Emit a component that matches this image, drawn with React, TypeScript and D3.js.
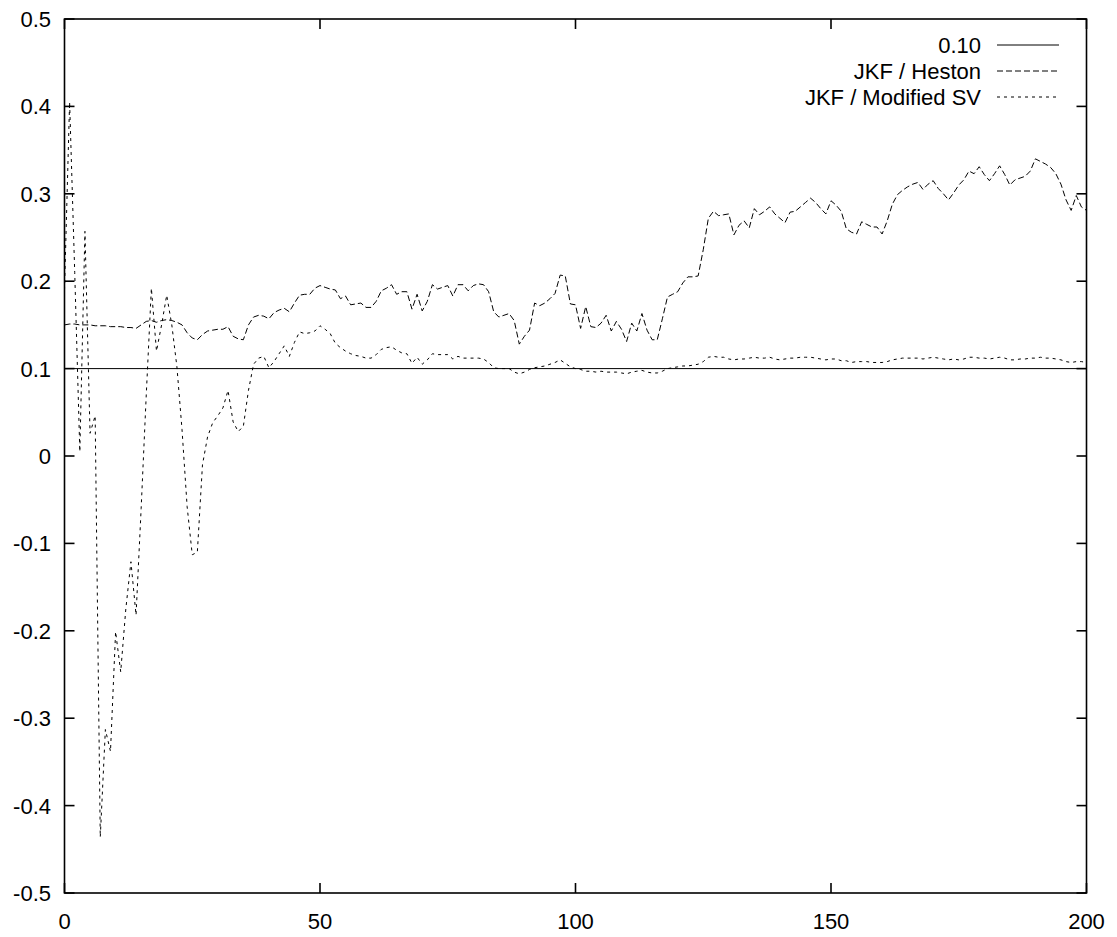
import React from "react";
import * as d3 from "d3";

const xTicks = [0, 50, 100, 150, 200];
const yTicks = [-0.5, -0.4, -0.3, -0.2, -0.1, 0, 0.1, 0.2, 0.3, 0.4, 0.5];
const yTickLabels = ["-0.5", "-0.4", "-0.3", "-0.2", "-0.1", "0", "0.1", "0.2", "0.3", "0.4", "0.5"];

const refLevel = 0.1;
const seriesNames = ["0.10", "JKF / Heston", "JKF / Modified SV"];

const heston = [
  0.150, 0.151, 0.151, 0.150, 0.150, 0.150, 0.149, 0.149, 0.149, 0.148,
  0.148, 0.148, 0.147, 0.147, 0.146, 0.150, 0.154, 0.155, 0.153, 0.155,
  0.156, 0.155, 0.153, 0.150, 0.141, 0.135, 0.133, 0.139, 0.143, 0.144,
  0.145, 0.145, 0.148, 0.137, 0.134, 0.133, 0.150, 0.159, 0.161, 0.160,
  0.157, 0.164, 0.167, 0.169, 0.165, 0.175, 0.184, 0.185, 0.185, 0.192,
  0.195, 0.193, 0.191, 0.190, 0.180, 0.183, 0.173, 0.174, 0.175, 0.170,
  0.170, 0.177, 0.189, 0.192, 0.196, 0.185, 0.188, 0.188, 0.168, 0.185,
  0.166, 0.177, 0.196, 0.191, 0.193, 0.195, 0.183, 0.196, 0.196, 0.189,
  0.195, 0.197, 0.196, 0.188, 0.165, 0.159, 0.161, 0.163, 0.155, 0.128,
  0.137, 0.144, 0.175, 0.172, 0.175, 0.180, 0.186, 0.207, 0.206, 0.174,
  0.173, 0.146, 0.171, 0.148, 0.147, 0.152, 0.161, 0.143, 0.154, 0.145,
  0.131, 0.152, 0.143, 0.163, 0.144, 0.133, 0.133, 0.157, 0.182, 0.185,
  0.188, 0.198, 0.205, 0.205, 0.206, 0.236, 0.272, 0.280, 0.275, 0.276,
  0.277, 0.253, 0.264, 0.269, 0.261, 0.283, 0.276, 0.280, 0.285, 0.277,
  0.272, 0.267, 0.279, 0.280, 0.285, 0.290, 0.295, 0.290, 0.283, 0.277,
  0.292, 0.287, 0.280, 0.260, 0.256, 0.254, 0.268, 0.265, 0.262, 0.262,
  0.254, 0.269, 0.288, 0.299, 0.304, 0.308, 0.311, 0.313, 0.305, 0.311,
  0.315, 0.306, 0.300, 0.293, 0.301, 0.310, 0.316, 0.326, 0.323, 0.331,
  0.322, 0.315, 0.323, 0.332, 0.322, 0.310, 0.316, 0.318, 0.320, 0.326,
  0.340, 0.337, 0.334, 0.330, 0.323, 0.311, 0.293, 0.281, 0.298, 0.285,
  0.281,
];

const modifiedSV = [
  0.190, 0.405, 0.210, 0.005, 0.257, 0.026, 0.046, -0.436, -0.313, -0.338,
  -0.201, -0.247, -0.175, -0.121, -0.182, -0.060, 0.070, 0.192, 0.120, 0.150,
  0.184, 0.150, 0.102, 0.030, -0.058, -0.113, -0.110, -0.010, 0.022, 0.038,
  0.046, 0.055, 0.075, 0.039, 0.028, 0.034, 0.075, 0.105, 0.112, 0.114,
  0.101, 0.108, 0.117, 0.126, 0.114, 0.130, 0.142, 0.140, 0.141, 0.143,
  0.149, 0.145, 0.140, 0.129, 0.124, 0.120, 0.117, 0.115, 0.114, 0.112,
  0.112, 0.116, 0.122, 0.124, 0.125, 0.121, 0.118, 0.117, 0.106, 0.113,
  0.105, 0.110, 0.117, 0.116, 0.116, 0.116, 0.111, 0.114, 0.112, 0.112,
  0.112, 0.112, 0.111, 0.107, 0.101, 0.100, 0.100, 0.100, 0.096, 0.094,
  0.096, 0.099, 0.101, 0.102, 0.103, 0.105, 0.107, 0.110, 0.106, 0.102,
  0.100, 0.099, 0.097, 0.097, 0.096, 0.097, 0.096, 0.096, 0.096, 0.095,
  0.094, 0.096, 0.097, 0.098, 0.096, 0.095, 0.095, 0.097, 0.100, 0.101,
  0.102, 0.103, 0.103, 0.104, 0.105, 0.108, 0.113, 0.114, 0.113, 0.113,
  0.111, 0.110, 0.111, 0.111, 0.112, 0.113, 0.112, 0.112, 0.113, 0.111,
  0.110, 0.111, 0.112, 0.112, 0.113, 0.113, 0.113, 0.112, 0.111, 0.110,
  0.111, 0.111, 0.109, 0.109, 0.107, 0.108, 0.108, 0.108, 0.107, 0.107,
  0.107, 0.108, 0.110, 0.111, 0.112, 0.112, 0.112, 0.112, 0.111, 0.112,
  0.113, 0.112, 0.111, 0.110, 0.111, 0.110, 0.111, 0.113, 0.113, 0.112,
  0.112, 0.111, 0.112, 0.113, 0.112, 0.110, 0.110, 0.111, 0.111, 0.112,
  0.112, 0.113, 0.112, 0.112, 0.111, 0.110, 0.108, 0.107, 0.108, 0.108,
  0.107,
];

const W = 1117;
const H = 937;
const left = 64.5;
const right = 1086.5;
const top = 19;
const bottom = 893;
const font = "'Liberation Sans', Arial, Helvetica, sans-serif";
const fs = 22;
const tickLen = 10;

export default function App() {
  const x = d3.scaleLinear().domain([0, 200]).range([left, right]);
  const y = d3.scaleLinear().domain([-0.5, 0.5]).range([bottom, top]);
  const line = d3
    .line<number>()
    .x((_, i) => x(i))
    .y((d) => y(d));

  const legendTextX = 981;
  const legendLineX1 = 997;
  const legendLineX2 = 1059;
  const legendRows = [45, 71, 97];
  const dashes = [null, "6,3", "3,4"];

  return (
    <div style={{ position: "absolute", left: 0, top: 0 }}>
      <svg width={W} height={H} style={{ display: "block", background: "#fff" }}>
        {/* reference line */}
        <line
          x1={x(0)}
          x2={x(200)}
          y1={y(refLevel)}
          y2={y(refLevel)}
          stroke="#000"
          strokeWidth={1}
        />
        <path d={line(heston) || ""} fill="none" stroke="#000" strokeWidth={1} strokeDasharray="6,3" />
        <path d={line(modifiedSV) || ""} fill="none" stroke="#000" strokeWidth={1} strokeDasharray="3,4" />

        {/* frame */}
        <rect
          x={left}
          y={top}
          width={right - left}
          height={bottom - top}
          fill="none"
          stroke="#000"
          strokeWidth={1.6}
        />

        {/* y ticks */}
        {yTicks.map((t, i) => (
          <g key={"y" + i}>
            <line x1={left} x2={left + tickLen} y1={y(t)} y2={y(t)} stroke="#000" strokeWidth={1.6} />
            <line x1={right} x2={right - tickLen} y1={y(t)} y2={y(t)} stroke="#000" strokeWidth={1.6} />
            <text
              x={51}
              y={y(t) + 8}
              textAnchor="end"
              fontFamily={font}
              fontSize={fs}
              fill="#000"
            >
              {yTickLabels[i]}
            </text>
          </g>
        ))}

        {/* x ticks */}
        {xTicks.map((t, i) => (
          <g key={"x" + i}>
            <line x1={x(t)} x2={x(t)} y1={bottom} y2={bottom - tickLen} stroke="#000" strokeWidth={1.6} />
            <line x1={x(t)} x2={x(t)} y1={top} y2={top + tickLen} stroke="#000" strokeWidth={1.6} />
            <text
              x={x(t)}
              y={929}
              textAnchor="middle"
              fontFamily={font}
              fontSize={fs}
              fill="#000"
            >
              {String(t)}
            </text>
          </g>
        ))}

        {/* legend */}
        {seriesNames.map((name, i) => (
          <g key={"l" + i}>
            <text
              x={legendTextX}
              y={legendRows[i] + 8}
              textAnchor="end"
              fontFamily={font}
              fontSize={fs}
              fill="#000"
            >
              {name}
            </text>
            <line
              x1={legendLineX1}
              x2={legendLineX2}
              y1={legendRows[i]}
              y2={legendRows[i]}
              stroke="#000"
              strokeWidth={1}
              strokeDasharray={dashes[i] || undefined}
            />
          </g>
        ))}
      </svg>
    </div>
  );
}
